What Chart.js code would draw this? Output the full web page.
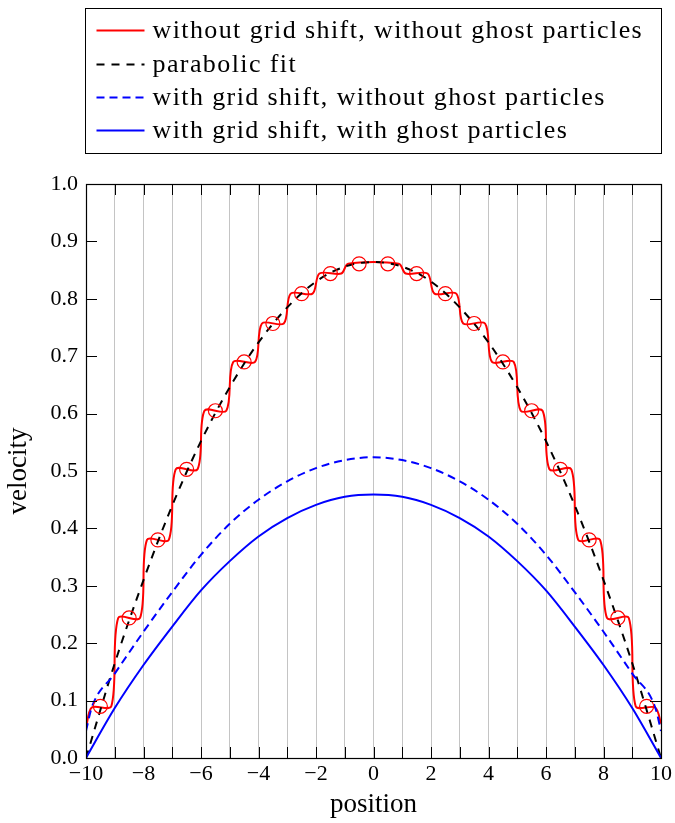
<!DOCTYPE html>
<html><head><meta charset="utf-8">
<script src="https://cdn.jsdelivr.net/npm/chart.js@4.4.1/dist/chart.umd.min.js"></script>
<style>html,body{margin:0;padding:0;background:#fff;}canvas{display:block;}</style>
</head><body>
<canvas id="c" width="675" height="823"></canvas>
<script>
// ---------- data ----------
const seriesLabels = [
  'without grid shift, without ghost particles',
  'parabolic fit',
  'with grid shift, without ghost particles',
  'with grid shift, with ghost particles'
];
// particle (cell-centre) velocities, circles
const cellCenters = [-9.5,-8.5,-7.5,-6.5,-5.5,-4.5,-3.5,-2.5,-1.5,-0.5,0.5,1.5,2.5,3.5,4.5,5.5,6.5,7.5,8.5,9.5];
const particleVelocity = [0.090,0.244,0.380,0.503,0.605,0.690,0.757,0.809,0.844,0.861,0.861,0.844,0.809,0.757,0.690,0.605,0.503,0.380,0.244,0.090];
// red staircase curve (without grid shift, without ghost particles)
const redX = [-10,-9.8,-9.12,-8.88,-8.12,-7.88,-7.12,-6.88,-6.12,-5.88,-5.12,-4.88,-4.12,-3.88,-3.12,-2.88,-2.12,-1.88,-1.12,-0.88,0.88,1.12,1.88,2.12,2.88,3.12,3.88,4.12,4.88,5.12,5.88,6.12,6.88,7.12,7.88,8.12,8.88,9.12,9.8,10];
const redY = [0.052,0.088,0.090,0.244,0.244,0.380,0.380,0.503,0.503,0.605,0.605,0.690,0.690,0.757,0.757,0.809,0.809,0.844,0.844,0.861,0.861,0.844,0.844,0.809,0.809,0.757,0.757,0.690,0.690,0.605,0.605,0.503,0.503,0.380,0.380,0.244,0.244,0.090,0.088,0.060];
// parabolic fit
const fitX = [-10,-9,-8,-7,-6,-5,-4,-3,-2,-1,0,1,2,3,4,5,6,7,8,9,10];
const fitY = [0.000,0.165,0.310,0.440,0.552,0.646,0.724,0.785,0.830,0.856,0.864,0.856,0.830,0.785,0.724,0.646,0.552,0.440,0.310,0.165,0.000];
// with grid shift, without ghost particles
const shiftX = [-10,-9.8,-9,-8,-7,-6,-5,-4,-3,-2,-1,0,1,2,3,4,5,6,7,8,9,9.8,10];
const shiftY = [0.047,0.088,0.147,0.220,0.289,0.354,0.408,0.450,0.482,0.505,0.519,0.524,0.519,0.505,0.482,0.450,0.408,0.354,0.289,0.220,0.147,0.088,0.047];
// with grid shift, with ghost particles
const ghostX = [-10,-9,-8,-7,-6,-5,-4,-3,-2,-1,0,1,2,3,4,5,6,7,8,9,10];
const ghostY = [0.000,0.087,0.162,0.229,0.292,0.343,0.386,0.418,0.441,0.455,0.459,0.455,0.441,0.418,0.386,0.343,0.292,0.229,0.162,0.087,0.000];
// ticks
const xTickValues = [-10,-9,-8,-7,-6,-5,-4,-3,-2,-1,0,1,2,3,4,5,6,7,8,9,10];
const xTickLabels = ['\u221210','','\u22128','','\u22126','','\u22124','','\u22122','','0','','2','','4','','6','','8','','10'];
const yTickValues = [0,0.1,0.2,0.3,0.4,0.5,0.6,0.7,0.8,0.9,1.0];
const yTickLabels = ['0.0','0.1','0.2','0.3','0.4','0.5','0.6','0.7','0.8','0.9','1.0'];
const axisTitles = {x:'position', y:'velocity'};

const pts = (xs, ys) => xs.map((x,i)=>({x, y: ys[i]}));
const SERIF = '"Liberation Serif", "Times New Roman", serif';

const legendBox = {
  id:'legendBox',
  afterDraw(chart){
    const {ctx, chartArea} = chart;
    ctx.save();
    const bx = chartArea.left - 0.5, by = 8.5, bw = chartArea.right - chartArea.left + 1, bh = 145;
    ctx.strokeStyle = '#000'; ctx.lineWidth = 1;
    ctx.strokeRect(bx, by, bw, bh);
    const rows = [30.5, 64.5, 97.5, 130.5];
    const order = [0,1,2,3];
    order.forEach((di, i) => {
      const ds = chart.data.datasets[di];
      const y = rows[i];
      ctx.beginPath();
      ctx.setLineDash(ds.borderDash || []);
      ctx.strokeStyle = ds.borderColor; ctx.lineWidth = ds.borderWidth;
      ctx.moveTo(bx + 11, y); ctx.lineTo(bx + 59, y); ctx.stroke();
      ctx.setLineDash([]);
      ctx.fillStyle = '#000';
      ctx.font = '26px ' + SERIF;
      if ('letterSpacing' in ctx) ctx.letterSpacing = '1.4px';
      ctx.textBaseline = 'alphabetic';
      ctx.fillText(ds.label, bx + 67, y + 7);
      if ('letterSpacing' in ctx) ctx.letterSpacing = '0px';
    });
    ctx.restore();
  }
};

const frameTicks = {
  id:'frameTicks',
  afterDatasetsDraw(chart){
    const {ctx, chartArea:{left,right,top,bottom}, scales:{x,y}} = chart;
    ctx.save();
    ctx.strokeStyle = '#000'; ctx.lineWidth = 1;
    ctx.beginPath();
    x.ticks.forEach(t => {
      const px = Math.round(x.getPixelForValue(t.value)) + 0.5;
      ctx.moveTo(px, bottom); ctx.lineTo(px, bottom - 11);
      ctx.moveTo(px, top); ctx.lineTo(px, top + 11);
    });
    y.ticks.forEach(t => {
      const py = Math.round(y.getPixelForValue(t.value)) + 0.5;
      ctx.moveTo(left, py); ctx.lineTo(left + 11, py);
      ctx.moveTo(right, py); ctx.lineTo(right - 11, py);
    });
    ctx.stroke();
    ctx.lineWidth = 1.2;
    ctx.strokeRect(Math.round(left)+0.5, Math.round(top)+0.5, Math.round(right-left), Math.round(bottom-top));
    ctx.restore();
  }
};

new Chart(document.getElementById('c'), {
  type: 'line',
  data: {
    datasets: [
      {label: seriesLabels[0], data: pts(redX, redY), borderColor:'#ff0000', borderWidth:2, tension:0.3, pointRadius:0, order:3},
      {label: seriesLabels[1], data: pts(fitX, fitY), borderColor:'#000000', borderWidth:2, borderDash:[8,7], cubicInterpolationMode:'monotone', pointRadius:0, order:2},
      {label: seriesLabels[2], data: pts(shiftX, shiftY), borderColor:'#0000ff', borderWidth:2, borderDash:[8,5], cubicInterpolationMode:'monotone', pointRadius:0, order:1},
      {label: seriesLabels[3], data: pts(ghostX, ghostY), borderColor:'#0000ff', borderWidth:2, cubicInterpolationMode:'monotone', pointRadius:0, order:0},
      {label: 'particles', data: pts(cellCenters, particleVelocity), showLine:false, borderColor:'#ff0000', backgroundColor:'rgba(0,0,0,0)', borderWidth:1.2, pointRadius:7, pointHoverRadius:7, order:-1}
    ]
  },
  options: {
    responsive:false, animation:false, devicePixelRatio:1,
    layout:{padding:{top:184, right:13, left:0, bottom:1}},
    plugins:{legend:{display:false}, tooltip:{enabled:false}},
    scales:{
      x:{
        type:'linear', min:-10, max:10,
        afterBuildTicks(s){ s.ticks = xTickValues.map(v=>({value:v})); },
        afterFit(s){ s.height = 64; },
        ticks:{autoSkip:false, maxRotation:0, padding:3, color:'#000',
               font:{family:SERIF, size:22}, callback:(v,i)=>xTickLabels[i]},
        grid:{color:'#c4c4c4', lineWidth:1, drawTicks:false},
        border:{display:false},
        title:{display:true, text:axisTitles.x, color:'#000', font:{family:SERIF, size:27}, padding:{top:0,bottom:1}}
      },
      y:{
        type:'linear', min:0, max:1,
        afterBuildTicks(s){ s.ticks = yTickValues.map(v=>({value:v})); },
        afterFit(s){ s.width = 86; },
        ticks:{autoSkip:false, padding:8, color:'#000',
               font:{family:SERIF, size:22}, callback:(v,i)=>yTickLabels[i]},
        grid:{display:false, drawTicks:false},
        border:{display:false},
        title:{display:true, text:axisTitles.y, color:'#000', font:{family:SERIF, size:27}, padding:{top:3,bottom:0}}
      }
    }
  },
  plugins:[frameTicks, legendBox]
});
</script>
</body></html>
